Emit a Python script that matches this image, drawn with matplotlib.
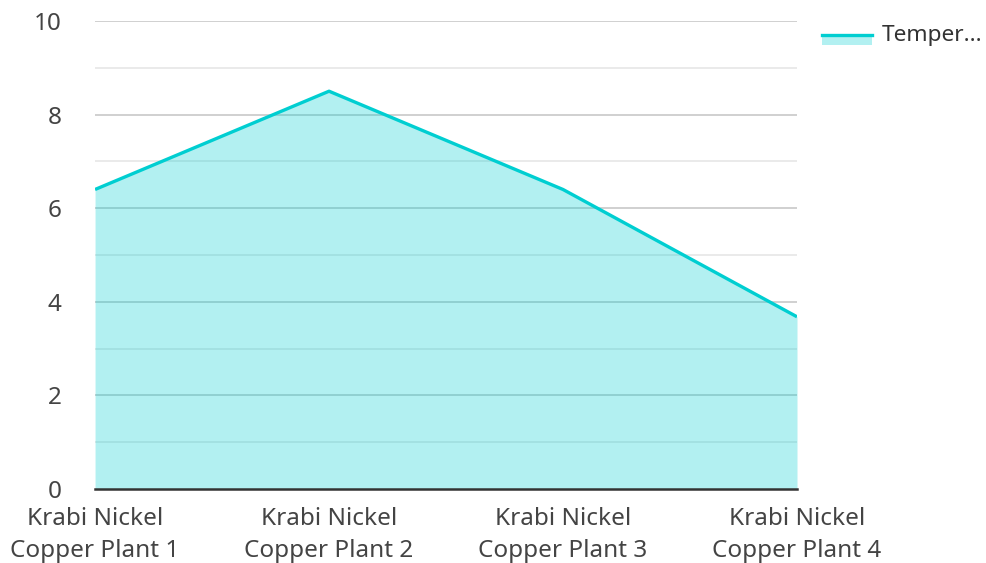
import matplotlib.pyplot as plt
from matplotlib.patches import Rectangle
from matplotlib.lines import Line2D

plants = ["Krabi Nickel\nCopper Plant 1", "Krabi Nickel\nCopper Plant 2",
          "Krabi Nickel\nCopper Plant 3", "Krabi Nickel\nCopper Plant 4"]
temperature = [6.4, 8.5, 6.4, 3.68]
legend_label = "Temper..."

color = "#00CED1"
plt.rcParams['font.family'] = ['Noto Sans', 'DejaVu Sans']
fs = 17.5

fig = plt.figure(figsize=(9.87, 5.63), dpi=100)
ax = fig.add_axes([0.0963, 0.1314, 0.7112, 0.8313])

x = list(range(len(plants)))
ax.set_xlim(0, len(plants) - 1)
ax.set_ylim(0, 10)

# grid under the fill so it shows through
for y in [1, 3, 5, 7, 9]:
    ax.axhline(y, color="#e6e6e6", lw=1.2, zorder=1)
for y in [2, 4, 6, 8, 10]:
    ax.axhline(y, color="#c8c8c8", lw=1.2, zorder=1)

ax.fill_between(x, temperature, 0, color=color, alpha=0.3, lw=0, zorder=2)
ax.plot(x, temperature, color=color, lw=2.4, zorder=3, solid_capstyle='butt')
ax.axhline(0, color="#333333", lw=1.8, zorder=4, clip_on=False)

for s in ax.spines.values():
    s.set_visible(False)
ax.set_xticks(x)
ax.set_xticklabels(plants, linespacing=1.42)
ax.set_yticks(range(0, 11, 2))
ax.tick_params(length=0, labelsize=fs, colors="#444444")
ax.tick_params(axis='y', pad=24)
ax.tick_params(axis='x', pad=13)

# legend drawn by hand
fig.add_artist(Rectangle((822 / 987, 1 - 45 / 563), 50 / 987, 10 / 563,
                         color=color, alpha=0.3, lw=0))
fig.add_artist(Line2D([822 / 987, 872 / 987], [1 - 35 / 563, 1 - 35 / 563],
                      color=color, lw=2.4))
fig.text(882 / 987, 1 - 35 / 563, legend_label, fontsize=16.3, color="#333333",
         va='center', ha='left')

fig.savefig("out.png", dpi=100)
